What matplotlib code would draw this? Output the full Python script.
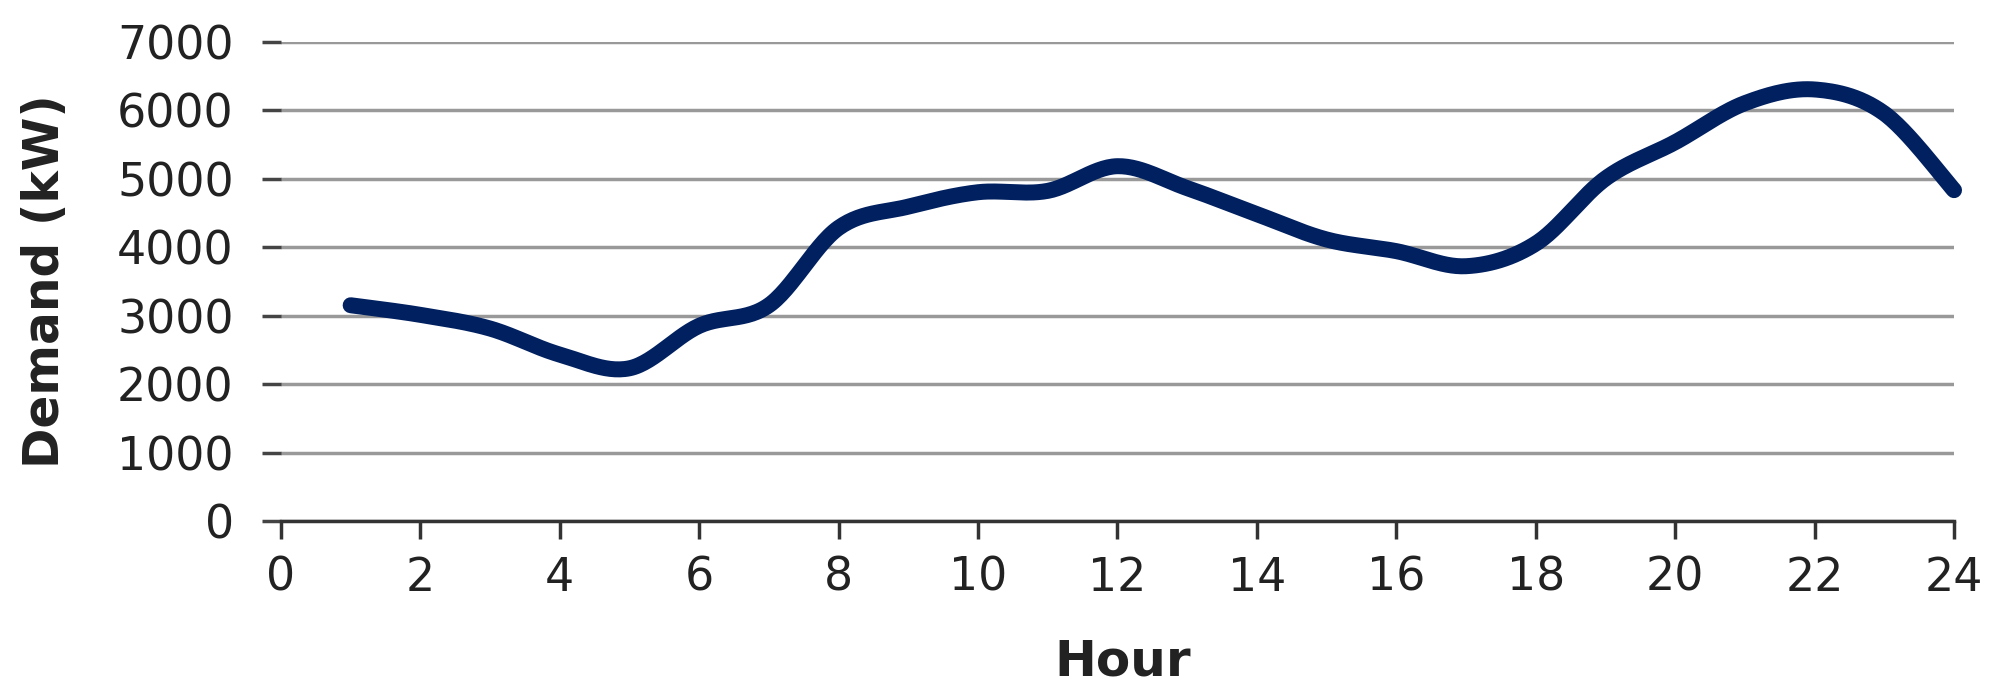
import numpy as np
import matplotlib
matplotlib.use("Agg")
import matplotlib.pyplot as plt

hours = list(range(1, 25))
demand_kw = [3150, 3010, 2810, 2430, 2230, 2850, 3150, 4280, 4590, 4800,
             4820, 5180, 4860, 4480, 4110, 3940, 3720, 4050, 5000, 5530,
             6100, 6300, 5950, 4830]

y_ticks = [0, 1000, 2000, 3000, 4000, 5000, 6000, 7000]
x_ticks = list(range(0, 25, 2))

LINE_COLOR = "#002060"
TEXT_COLOR = "#222222"


def smooth_curve(x, y, n=30):
    # excel style smoothed line: cubic bezier with catmull-rom control points
    x = np.asarray(x, float)
    y = np.asarray(y, float)
    px = np.concatenate([[x[0]], x, [x[-1]]])
    py = np.concatenate([[y[0]], y, [y[-1]]])
    t = np.linspace(0, 1, n)[:, None]
    xs, ys = [], []
    for i in range(1, len(px) - 2):
        p0 = np.array([px[i], py[i]])
        p3 = np.array([px[i + 1], py[i + 1]])
        c1 = p0 + (np.array([px[i + 1], py[i + 1]]) - np.array([px[i - 1], py[i - 1]])) / 6
        c2 = p3 - (np.array([px[i + 2], py[i + 2]]) - p0) / 6
        b = ((1 - t) ** 3) * p0 + 3 * ((1 - t) ** 2) * t * c1 + 3 * (1 - t) * t ** 2 * c2 + t ** 3 * p3
        xs.append(b[:, 0])
        ys.append(b[:, 1])
    return np.concatenate(xs), np.concatenate(ys)


plt.rcParams['font.family'] = ['DejaVu Sans']
fig = plt.figure(figsize=(19.98, 6.99), dpi=100)
ax = fig.add_axes([0.1406, 0.2546, 0.8374, 0.686])

sx, sy = smooth_curve(hours, demand_kw)
ax.plot(sx, sy, color=LINE_COLOR, lw=11.5, solid_capstyle="round", zorder=3,
        clip_on=False)

ax.set_xlim(0, 24)
ax.set_ylim(0, 7000)
ax.set_xticks(x_ticks)
ax.set_yticks(y_ticks)
ax.grid(True, axis="y", color="#999999", lw=2.5, zorder=1)
ax.set_axisbelow(True)

for s in ["top", "right", "left"]:
    ax.spines[s].set_visible(False)
ax.spines["bottom"].set_color("#333333")
ax.spines["bottom"].set_linewidth(2.5)

ax.tick_params(axis="x", direction="out", length=13, width=2.5, color="#333333",
               labelsize=33, labelcolor=TEXT_COLOR, pad=12)
ax.tick_params(axis="y", direction="out", length=14, width=2.5, color="#444444",
               labelsize=33, labelcolor=TEXT_COLOR, pad=20)

ax.set_xlabel("Hour", fontsize=36, fontweight="bold", color=TEXT_COLOR)
ax.set_ylabel("Demand (kW)", fontsize=35, fontweight="bold", color=TEXT_COLOR)
ax.xaxis.set_label_coords(0.503, -0.292)
ax.xaxis.label.set_va("center")
ax.yaxis.set_label_coords(-0.141, 0.5)
ax.yaxis.label.set_va("center")

fig.savefig("out.png", dpi=100, facecolor="white")
